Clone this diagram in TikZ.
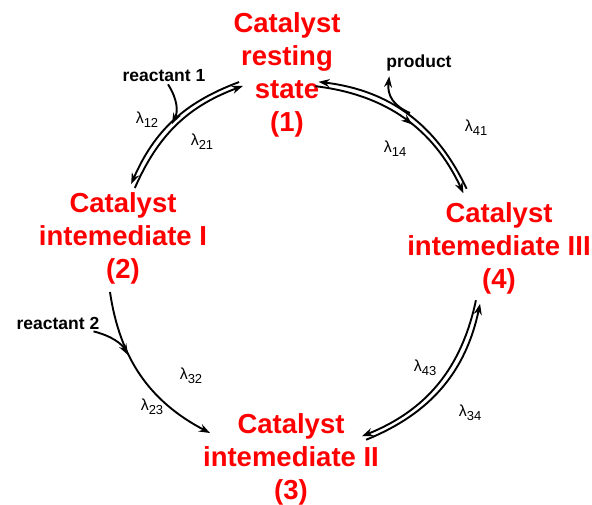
\documentclass[tikz,border=0pt]{standalone}
\usepackage{fontspec}
\setmainfont{Liberation Sans}
\usetikzlibrary{arrows.meta,calc,decorations.markings}
\begin{document}
\begin{tikzpicture}[x=1pt,y=1pt,
  cat/.style={text=red,font=\bfseries\fontsize{27.5}{33}\selectfont,align=center,inner sep=0pt,anchor=north},
  lab/.style={font=\bfseries\fontsize{17.5}{19}\selectfont,inner sep=0pt},
  lam/.style={font=\fontsize{16}{16}\selectfont,inner sep=0pt},
  conn/.style={line width=1.9pt,-{Stealth[length=11pt,width=8pt]}},
  midarrow/.style={postaction={decorate},decoration={markings,mark=at position #1 with {\arrow{Stealth[length=11pt,width=8pt]}}}}
]
\useasboundingbox (0,0) rectangle (592,-504);
\newcommand\lamtxt[1]{λ\raisebox{-4pt}{\fontsize{13}{13}\selectfont #1}}
% nodes
\node[cat] (n1) at (287,-12) {Catalyst\\resting\\state\\(1)};
\node[cat] (n2) at (123,-192) {Catalyst\\intemediate I\\(2)};
\node[cat] (n4) at (499,-202) {Catalyst\\intemediate III\\(4)};
\node[cat] (n3) at (291,-413) {Catalyst\\intemediate II\\(3)};
% labels
\node[lab] (r1) at (164,-76) {reactant 1};
\node[lab] (r2) at (58,-323) {reactant 2};
\node[lab] (pr) at (419,-63) {product};
\node[lam] (l12) at (147,-120) {\lamtxt{12}};
\node[lam] (l21) at (202,-142) {\lamtxt{21}};
\node[lam] (l14) at (395,-149) {\lamtxt{14}};
\node[lam] (l41) at (476,-128) {\lamtxt{41}};
\node[lam] (l32) at (191,-376) {\lamtxt{32}};
\node[lam] (l23) at (152,-407) {\lamtxt{23}};
\node[lam] (l43) at (425,-368) {\lamtxt{43}};
\node[lam] (l34) at (470,-413) {\lamtxt{34}};
% arc end points
\coordinate (a12) at (133,-186);
\coordinate (b12) at (241,-84);
\coordinate (a14) at (317,-84);
\coordinate (b14) at (465,-191);
\coordinate (a43) at (478,-302);
\coordinate (b43) at (364,-438);
\coordinate (s23) at (110,-292);
\coordinate (e23) at (210,-433);
% pair 2-1
\draw[conn] ($(b12)!2.7pt!-90:(a12)$) to[bend right=23] ($(a12)!2.7pt!90:(b12)$);
\draw[conn] ($(a12)!2.7pt!-90:(b12)$) to[bend left=23] ($(b12)!2.7pt!90:(a12)$);
% pair 1-4
\draw[conn] ($(b14)!2.7pt!-90:(a14)$) to[bend right=29] ($(a14)!2.7pt!90:(b14)$);
\draw[conn,midarrow=0.55] ($(a14)!2.7pt!-90:(b14)$) to[bend left=29] ($(b14)!2.7pt!90:(a14)$);
% pair 4-3
\draw[conn] ($(b43)!2.7pt!-90:(a43)$) to[bend right=28] ($(a43)!2.7pt!90:(b43)$);
\draw[conn] ($(a43)!2.7pt!-90:(b43)$) to[bend left=28] ($(b43)!2.7pt!90:(a43)$);
% 2 -> 3
\draw[conn] (s23) to[bend right=27] (e23);
% side arrows
\coordinate (r1e) at (172,-124);
\coordinate (r2e) at (128,-355);
\coordinate (pre) at (410,-113);
\draw[conn] (r1.south) ++(4,-2) .. controls (178,-100) and (178,-112) .. (r1e);
\draw[conn] (r2.south east) ++(-6,-2) .. controls (112,-336) and (122,-344) .. (r2e);
\draw[conn] (pre) .. controls (394,-106) and (387,-96) .. ($(pr.south west)+(3,-5)$);
\end{tikzpicture}
\end{document}
